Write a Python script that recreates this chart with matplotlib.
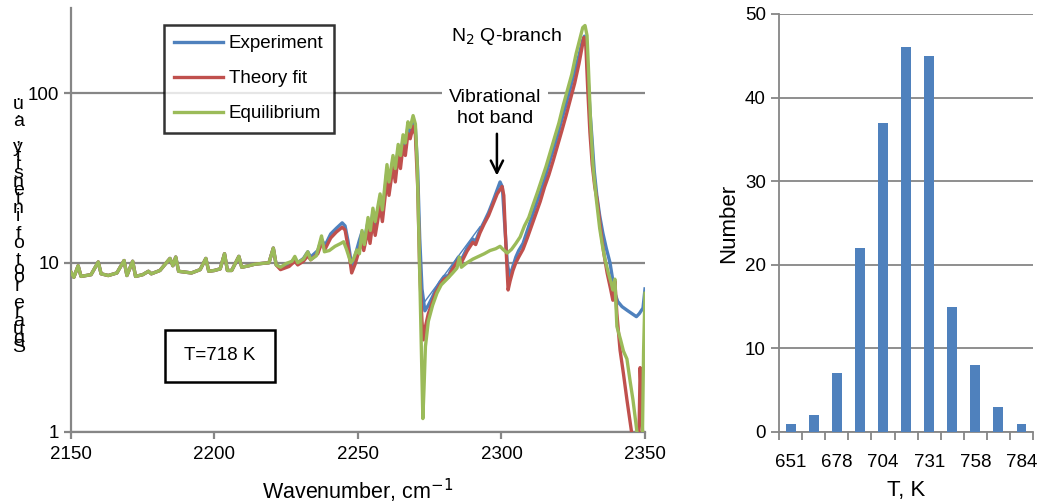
import matplotlib
matplotlib.use('Agg')
import matplotlib.pyplot as plt
from matplotlib.patches import Rectangle

plt.rcParams['font.family'] = ['Liberation Sans', 'DejaVu Sans']

# colours (Excel 2007 palette)
blue = '#4F81BD'
red = '#C0504D'
green = '#9BBB59'
grey = '#868686'

# common low-frequency part, the three curves overlap there
base_wn = [2150, 2151, 2152.5, 2153.5, 2157, 2159.5, 2160.5, 2163, 2166, 2168.5, 2169.5,
           2171.5, 2172.5, 2175, 2177, 2178, 2181, 2184.5, 2185.5, 2186.5, 2187.5, 2192,
           2195, 2197, 2198, 2200, 2202, 2203.5, 2204.5, 2206, 2208.5, 2209.5, 2212, 2214,
           2219, 2220.5, 2221.5]
base_val = [8.8, 8.2, 9.6, 8.3, 8.5, 10.1, 8.6, 8.4, 8.7, 10.3, 8.4,
            10.2, 8.3, 8.5, 8.9, 8.6, 9.0, 10.6, 9.6, 10.8, 8.9, 8.7,
            9.1, 10.6, 8.9, 9.0, 9.2, 11.3, 9.0, 9.0, 10.9, 9.4, 9.6, 9.8,
            10.0, 12.2, 9.7]

exp_wn = [2223, 2226, 2228, 2229, 2231, 2232.5, 2233.5, 2236, 2237.3, 2238.5, 2240.5, 2242.5,
          2244.5, 2245.5, 2246.5, 2247.8, 2249, 2250.5, 2251.4, 2252, 2253.5, 2254.2, 2255.2,
          2256, 2257.7, 2258.5, 2260.1, 2260.8, 2262.2, 2263, 2264, 2264.8, 2265.7, 2266.5,
          2267.4, 2268.2, 2269.2, 2270, 2270.8, 2271.5, 2272.3, 2273.3, 2274.5, 2276, 2277,
          2278.6, 2280, 2281.5, 2283, 2285, 2286, 2288, 2290, 2291, 2292.5, 2294, 2295.5,
          2297, 2298.5, 2299.5, 2300.3, 2301, 2302, 2302.8, 2303.8, 2305, 2306, 2307.5, 2309,
          2310.5, 2312, 2313.5, 2315, 2316.5, 2318, 2319.5, 2321, 2322.5, 2324, 2325.5, 2327,
          2328.2, 2328.9, 2329.6, 2330.2, 2330.8, 2331.5, 2332.3, 2333.2, 2334.2, 2335.3,
          2336.5, 2337.8, 2338.8, 2339.5, 2340.5, 2342, 2344, 2345.5, 2347, 2348, 2349.3,
          2349.7, 2350]
exp_val = [9.4, 9.8, 10.6, 10.0, 10.6, 11.6, 10.8, 11.8, 13.8, 12.6, 14.8, 16.0,
           17.2, 16.5, 13.5, 9.6, 11.0, 13.6, 15.2, 13.0, 17.5, 14.8, 20.0,
           16.5, 24, 19, 35, 27, 41, 33, 47, 40, 54, 47,
           64, 58, 70, 62, 35, 14, 7, 5.2, 5.6, 6.3, 6.9,
           7.7, 8.3, 8.4, 9.5, 10.8, 10.4, 12.2, 13.8, 13.4, 15.6, 17.5, 19.8,
           23, 27, 30, 28, 18, 10, 8.3, 9.3, 10.8, 11.8, 13, 15.5,
           18.5, 22, 26, 31, 38, 46, 56, 70, 86, 108, 135, 168,
           205, 218, 190, 120, 80, 55, 35, 25, 19, 15,
           12.2, 10, 7.8, 6.6, 5.9, 5.5, 5.2, 5.0, 4.8, 5.0, 5.4,
           6.3, 7.0]
# thin straight piece of the experiment trace across the gap
gap_wn = [2273.3, 2292.5]
gap_val = [5.9, 16.3]

fit_wn = [2223, 2226, 2228, 2229, 2231, 2232.5, 2233.5, 2236, 2237.3, 2238.5, 2240.5, 2242.5,
          2244.5, 2245.5, 2246.5, 2247.8, 2249, 2250.5, 2251.4, 2252, 2253.5, 2254.2, 2255.2,
          2256, 2257.7, 2258.5, 2260.1, 2260.8, 2262.2, 2263, 2264, 2264.8, 2265.7, 2266.5,
          2267.4, 2268.2, 2269.2, 2270, 2270.8, 2271.5, 2272.3, 2272.8, 2273.5, 2274.5, 2276,
          2277, 2278.6, 2280, 2281.5, 2283, 2285, 2286, 2288, 2290, 2291, 2292.5, 2294,
          2295.5, 2297, 2298.5, 2300.2, 2300.8, 2301.5, 2302.3, 2303, 2304, 2305, 2306,
          2307.5, 2309, 2310.5, 2312, 2313.5, 2315, 2316.5, 2318, 2319.5, 2321, 2322.5, 2324,
          2325.5, 2327, 2328.7, 2329.4, 2330, 2330.8, 2331.6, 2332.5, 2333.3, 2334.5, 2335.6,
          2336.8, 2338, 2338.8, 2339.5, 2340.2, 2341.3, 2342.5, 2343.7, 2344.8, 2345.5,
          2346.5, 2347.5, 2348, 2348.3, 2348.8, 2349.3, 2350]
fit_val = [9.1, 9.5, 10.2, 9.7, 10.2, 11.0, 10.4, 11.3, 13.0, 12.0, 14.0, 15.2,
           16.2, 15.6, 12.5, 8.7, 9.8, 12.0, 13.5, 11.8, 15.5, 13.0, 17.5,
           14.5, 21.5, 17.5, 31, 25, 37, 30, 43, 36, 49, 43,
           58, 54, 64, 57, 28, 9, 4.5, 3.5, 4.2, 5.0, 5.9,
           6.6, 7.4, 8.0, 8.2, 9.2, 10.4, 10.0, 11.7, 13.2, 12.8, 15.0, 17,
           19, 22, 25.5, 28.2, 25, 13, 6.9, 7.8, 9.0, 10.0, 10.8,
           12, 14, 16.5, 19.5, 23, 28, 33, 40, 49, 60, 74, 92,
           115, 150, 214, 190, 110, 59, 38, 28, 23.6, 16, 11.5,
           8.7, 7.0, 6.0, 7.8, 5.0, 3.05, 2.2, 1.55, 1.15, 0.95,
           0.7, 0.75, 1.2, 2.4, 1.5, 0.8, 0.9]

eq_wn = [2223, 2225, 2227, 2228, 2229, 2231, 2232.5, 2233.5, 2235.5, 2237.3, 2238.3, 2240,
         2242, 2244, 2245, 2246, 2247.5, 2248.3, 2249.6, 2250.5, 2251.4, 2252.2, 2253.5,
         2254.3, 2255.2, 2256, 2257.7, 2258.5, 2260.1, 2260.8, 2262.2, 2263, 2264, 2264.8,
         2265.7, 2266.5, 2267.4, 2268.2, 2269.2, 2270, 2270.6, 2271.2, 2271.8, 2272.3,
         2272.6, 2273, 2273.5, 2274.5, 2276, 2277.5, 2279, 2281, 2283, 2284.5, 2285.3, 2286,
         2288, 2290, 2292, 2294, 2296, 2298, 2299.5, 2300.5, 2302, 2303.5, 2305, 2306.5,
         2308, 2309.5, 2311, 2312.5, 2314, 2315.5, 2317, 2318.5, 2320, 2321.5, 2323, 2324.5,
         2326, 2327.3, 2328.3, 2329.1, 2329.8, 2330.3, 2331, 2331.9, 2333, 2334.2, 2335.2,
         2336.1, 2337.3, 2338.3, 2338.8, 2339.5, 2340.2, 2341.5, 2342.5, 2343.7, 2344.8,
         2345.8, 2347.2, 2348, 2349, 2349.5, 2350]
eq_val = [9.4, 9.9, 10.2, 10.9, 10.0, 10.5, 11.6, 10.4, 11.0, 14.4, 11.6, 11.8,
          12.5, 13.0, 13.3, 12.0, 10.0, 10.4, 11.9, 11.3, 15.5, 12.8, 18.5,
          15.5, 21, 17.5, 25.5, 20.5, 38, 30, 43, 36, 50, 43,
          57, 51, 68, 63, 74, 66, 40, 15, 5, 2.0,
          1.2, 1.8, 3.2, 4.5, 5.6, 6.6, 7.4, 8.0, 8.7, 9.3, 10.8, 9.4,
          10.0, 10.5, 10.9, 11.3, 11.8, 12.1, 12.5, 12.0, 11.4, 12.0, 13.0, 14.2,
          16.5, 18.5, 22, 26, 31, 37, 45, 55, 67, 85, 105, 130,
          172, 210, 245, 252, 220, 140, 70, 37, 24, 16, 12.5,
          10.4, 8.6, 7.5, 6.9, 8.0, 4.2, 3.5, 3.0, 2.7, 2.0,
          1.55, 1.0, 0.7, 0.7, 3.0, 6.6]

# histogram of fitted temperatures
temp_bins = ['651', '664', '678', '691', '704', '718', '731', '744', '758', '771', '784']
counts = [1, 2, 7, 22, 37, 46, 45, 15, 8, 3, 1]

ylabel_left = 'Square root of intensity, a.u.'

fig = plt.figure(figsize=(10.39, 5.03), dpi=100)

# ---- left: spectrum ----
ax = fig.add_axes([0.0683, 0.1412, 0.5525, 0.843])
ax.set_yscale('log')
ax.plot(base_wn + exp_wn, base_val + exp_val, color=blue, lw=2.4, label='Experiment', zorder=3)
ax.plot(gap_wn, gap_val, color=blue, lw=1.0, zorder=3)
ax.plot(base_wn + fit_wn, base_val + fit_val, color=red, lw=2.4, label='Theory fit', zorder=4)
ax.plot(base_wn + eq_wn, base_val + eq_val, color=green, lw=2.4, label='Equilibrium', zorder=5)

ax.set_xlim(2150, 2350)
ax.set_ylim(1, 320)
ax.set_xticks([2150, 2200, 2250, 2300, 2350])
ax.set_yticks([1, 10, 100])
ax.set_yticklabels(['1', '10', '100'])
ax.minorticks_off()
ax.yaxis.grid(True, color=grey, lw=1.6)
ax.set_axisbelow(True)
for s in ['top', 'right']:
    ax.spines[s].set_visible(False)
for s in ['left', 'bottom']:
    ax.spines[s].set_color(grey)
    ax.spines[s].set_linewidth(1.6)
ax.tick_params(axis='both', colors=grey, width=1.6, length=5, labelsize=13.5, labelcolor='black')
ax.tick_params(axis='x', pad=5)
ax.set_xlabel('Wavenumber, cm$^{-1}$', fontsize=15.5, labelpad=10)

leg = ax.legend(loc='upper left', bbox_to_anchor=(0.162, 0.96), fontsize=13.5, frameon=True,
                fancybox=False, handlelength=2.6, handletextpad=0.3, labelspacing=0.95,
                borderpad=0.55, borderaxespad=0)
leg.get_frame().set_edgecolor('black')
leg.get_frame().set_linewidth(1.8)
leg.set_zorder(10)

ax.text(2301.9, 218, 'N$_2$ Q-branch', ha='center', va='center', fontsize=14, zorder=8)
ax.text(2297.7, 82, 'Vibrational\nhot band', ha='center', va='center', fontsize=14,
        linespacing=1.25, zorder=8, bbox=dict(fc='white', ec='none', pad=5))
ax.annotate('', xy=(2298.4, 31.5), xytext=(2298.4, 60),
            arrowprops=dict(arrowstyle='->', color='black', lw=1.8, mutation_scale=22), zorder=8)

ax.add_patch(Rectangle((0.164, 0.118), 0.191, 0.123, transform=ax.transAxes, fc='white',
                       ec='black', lw=1.8, zorder=8))
ax.text(0.2595, 0.18, 'T=718 K', transform=ax.transAxes, ha='center', va='center',
        fontsize=13.5, zorder=9)

# garbled y label of the original: upright letters squeezed into one column
fig.text(0.0175, 0.56, '\n'.join(reversed(ylabel_left)), ha='center', va='center',
         fontsize=14, linespacing=0.36)

# ---- right: histogram ----
ax2 = fig.add_axes([0.7498, 0.1412, 0.2445, 0.831])
pos = list(range(len(temp_bins)))
ax2.bar(pos, counts, width=0.43, color=blue, zorder=3)
ax2.set_xlim(-0.5, len(temp_bins) - 0.5)
ax2.set_ylim(0, 50)
ax2.set_yticks([0, 10, 20, 30, 40, 50])
ax2.set_xticks(pos[::2])
ax2.set_xticklabels(temp_bins[::2])
ax2.set_xticks([p - 0.5 for p in pos] + [len(pos) - 0.5], minor=True)
ax2.tick_params(axis='x', which='major', length=0, labelsize=13.5, pad=16)
ax2.tick_params(axis='x', which='minor', length=6, width=1.3, colors=grey)
ax2.tick_params(axis='y', length=6, width=1.3, colors=grey, labelsize=13.5, labelcolor='black')
ax2.yaxis.grid(True, color=grey, lw=1.3)
ax2.set_axisbelow(True)
for s in ['top', 'right']:
    ax2.spines[s].set_visible(False)
for s in ['left', 'bottom']:
    ax2.spines[s].set_color(grey)
    ax2.spines[s].set_linewidth(1.3)
ax2.set_xlabel('T, K', fontsize=16, labelpad=6)
ax2.set_ylabel('Number', fontsize=16, labelpad=4)

fig.savefig('out.png', dpi=100)
